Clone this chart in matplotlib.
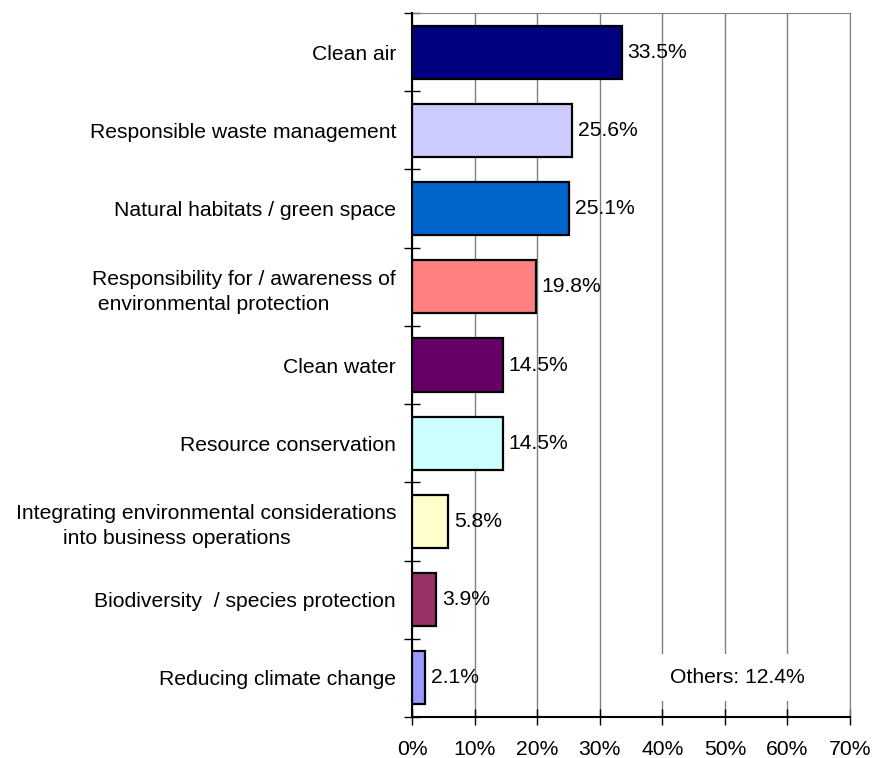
import matplotlib.pyplot as plt
import numpy as np

categories = ['Clean air', 'Responsible waste management', 'Natural habitats / green space',
              'Responsibility for / awareness of\n environmental protection', 'Clean water',
              'Resource conservation',
              'Integrating environmental considerations\n        into business operations',
              'Biodiversity  / species protection', 'Reducing climate change']
values = [33.5, 25.6, 25.1, 19.8, 14.5, 14.5, 5.8, 3.9, 2.1]
colors = ['#000080', '#CCCCFF', '#0066CC', '#FF8080', '#660066',
          '#CCFFFF', '#FFFFCC', '#993366', '#9999FF']
others_label = 'Others: 12.4%'

plt.rcParams['font.family'] = ['Liberation Sans', 'DejaVu Sans']
fs = 15.2

fig = plt.figure(figsize=(8.73, 7.58), dpi=100)
ax = fig.add_axes([0.472, 0.0541, 0.5017, 0.9287])

y = np.arange(len(categories))
ax.barh(y, values, height=0.68, color=colors, edgecolor='black', linewidth=1.6, zorder=3)
for yi, v in zip(y, values):
    ax.text(v + 0.9, yi, '%.1f%%' % v, va='center', ha='left', fontsize=fs, zorder=5)

ax.set_xlim(0, 70)
ax.set_ylim(len(categories) - 0.5, -0.5)
ax.set_xticks(np.arange(0, 71, 10))
ax.set_xticklabels(['%d%%' % t for t in range(0, 71, 10)], fontsize=fs)
ax.grid(axis='x', color='#808080', linewidth=1, zorder=0)

ax.set_yticks(y)
ax.set_yticklabels(categories, fontsize=fs)
for lab in ax.get_yticklabels():
    lab.set_multialignment('left')
    lab.set_linespacing(1.4)
ax.set_yticks(np.arange(-0.5, len(categories), 1), minor=True)
ax.tick_params(axis='y', which='major', length=0, pad=11.5)
ax.tick_params(axis='y', which='minor', direction='inout', length=12, width=1)
ax.tick_params(axis='x', direction='inout', length=12, width=1, pad=10.5)

for s in ['top', 'right']:
    ax.spines[s].set_color('#808080')
for s in ['left', 'bottom']:
    ax.spines[s].set_linewidth(1.5)
    ax.spines[s].set_zorder(4)

ax.text(52, 8, others_label, ha='center', va='center', fontsize=fs, zorder=5,
        bbox=dict(facecolor='white', edgecolor='none', pad=10))

fig.savefig('out.png', dpi=100)
